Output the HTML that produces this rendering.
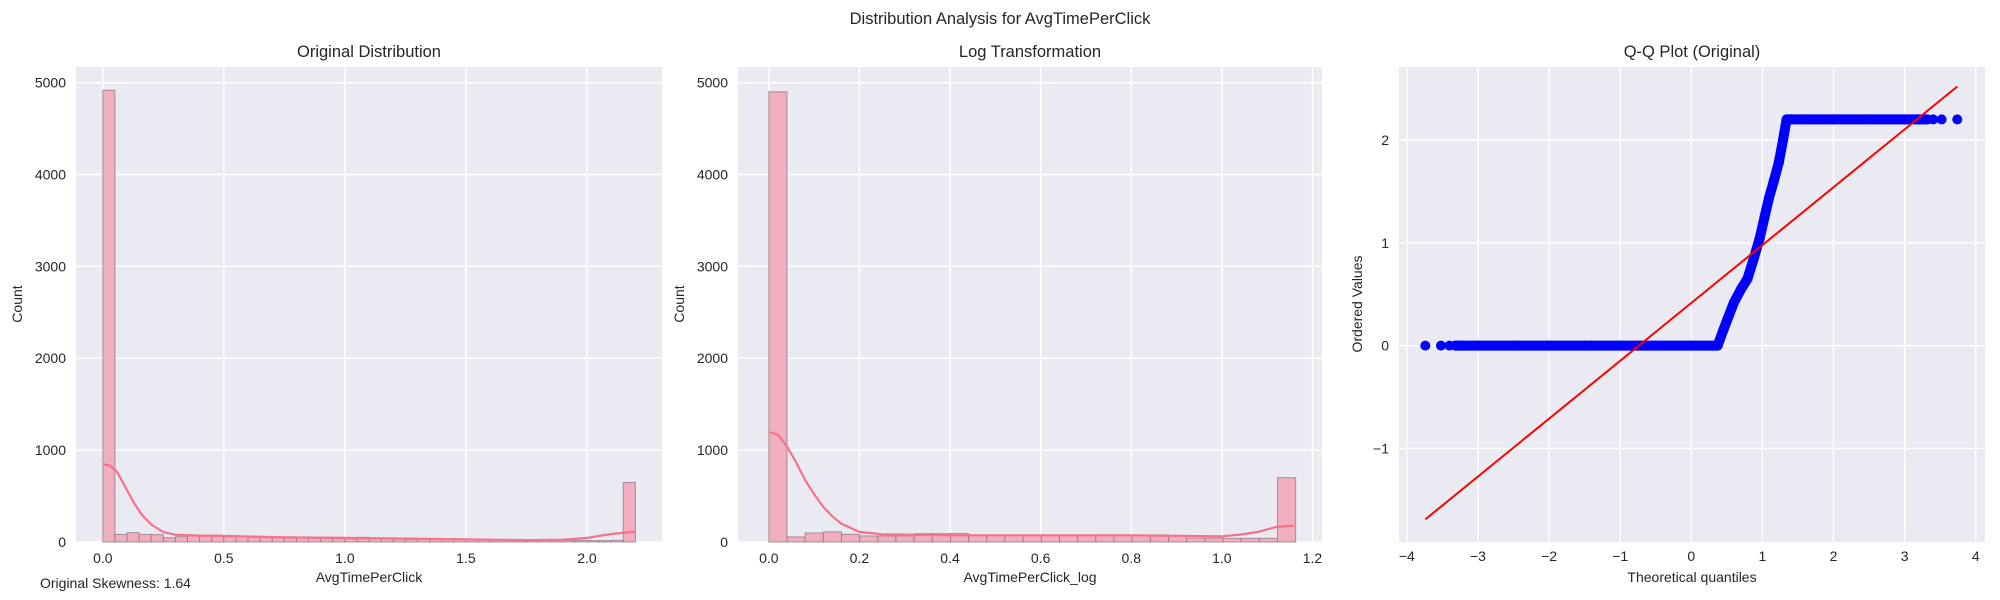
<!DOCTYPE html>
<html><head><meta charset="utf-8"><style>
html,body{margin:0;padding:0;background:#fff;}
svg{display:block;font-family:"Liberation Sans",Arial,sans-serif;}
</style></head><body>
<svg id="fig" width="2000" height="600" viewBox="0 0 2000 600">
<text x="1000" y="24" text-anchor="middle" font-size="16.5" fill="#262626">Distribution Analysis for AvgTimePerClick</text>
</svg>
<script>
// ---- data: panel 1 (original) ----
const h1BinStart = 0, h1BinWidth = 0.05;
const h1Counts = [4917,83,102,83,80,47,58,69,69,72,65,62,58,54,47,47,47,49,47,47,47,51,43,40,36,33,33,33,33,33,33,30,25,25,25,25,18,18,18,18,15,15,18,648];
const h1KdeX = [0,0.03,0.06,0.1,0.13,0.16,0.2,0.25,0.3,0.4,0.5,0.75,1.0,1.25,1.5,1.75,1.9,2.0,2.1,2.2];
const h1KdeY = [848,830,760,565,420,300,191,108,79,70,66,50,45,37,29,20,25,45,87,112];
const h1XTicks = [0,0.5,1.0,1.5,2.0];
const h1XTickLabels = ["0.0","0.5","1.0","1.5","2.0"];
const countTicks = [0,1000,2000,3000,4000,5000];
const countTickLabels = ["0","1000","2000","3000","4000","5000"];
// ---- data: panel 2 (log) ----
const h2BinStart = 0, h2BinWidth = 0.0401;
const h2Counts = [4900,55,98,110,84,66,66,66,91,91,91,73,73,73,73,73,73,73,77,77,77,77,70,44,44,40,40,40,700];
const h2KdeX = [0,0.02,0.04,0.06,0.08,0.1,0.12,0.14,0.16,0.2,0.25,0.4,0.6,0.8,0.9,1.0,1.04,1.08,1.12,1.16];
const h2KdeY = [1197,1170,1040,870,675,520,383,280,200,110,84,73,73,73,68,62,80,110,164,179];
const h2XTicks = [0,0.2,0.4,0.6,0.8,1.0,1.2];
const h2XTickLabels = ["0.0","0.2","0.4","0.6","0.8","1.0","1.2"];
// ---- data: panel 3 (Q-Q) ----
const qqTheo = [-3.74,-3.52,-3.40,-3.32,-3.26,-3.2,-3.0,-2.5,-2.0,-1.5,-1.0,-0.5,0,0.3,0.37,0.45,0.51,0.6,0.7,0.79,0.88,0.96,1.03,1.09,1.16,1.23,1.29,1.34,1.4,1.6,2.0,2.5,3.0,3.2,3.26,3.32,3.40,3.52,3.74];
const qqVals = [0,0,0,0,0,0,0,0,0,0,0,0,0,0,0,0.15,0.26,0.42,0.55,0.65,0.85,1.04,1.25,1.43,1.6,1.78,2.0,2.2,2.2,2.2,2.2,2.2,2.2,2.2,2.2,2.2,2.2,2.2,2.2];
const fitLineX = [-3.74,3.74];
const fitLineY = [-1.69,2.52];
const qqXTicks = [-4,-3,-2,-1,0,1,2,3,4];
const qqXTickLabels = ["\u22124","\u22123","\u22122","\u22121","0","1","2","3","4"];
const qqYTicks = [-1,0,1,2];
const qqYTickLabels = ["\u22121","0","1","2"];

const NS = "http://www.w3.org/2000/svg";
const fig = document.getElementById('fig');
function mk(tag, attrs, parent){const e=document.createElementNS(NS,tag);for(const k in attrs)e.setAttribute(k,attrs[k]);(parent||fig).appendChild(e);return e;}
const TOP=67, BOT=542;

function axes(g, L, R, xmin, xmax, ymin, ymax){
  const sx=v=>L+(v-xmin)/(xmax-xmin)*(R-L);
  const sy=v=>BOT-(v-ymin)/(ymax-ymin)*(BOT-TOP);
  const bg=mk('rect',{x:L,y:TOP,width:R-L,height:BOT-TOP,fill:'#eaeaf2'},g);
  
  
  return {sx,sy};
}
function grid(g,L,R,sx,sy,xt,xl,yt,yl,tickLabelY){
  xt.forEach((v,i)=>{
    const x=sx(v);
    const ln=mk('line',{x1:x,x2:x,y1:TOP,y2:BOT,stroke:'#fff','stroke-width':1.4},g);
    
    
    const t=mk('text',{x:x,y:tickLabelY,'text-anchor':'middle','font-size':14,fill:'#262626'},g);
    t.textContent=xl[i];
    
    
  });
  yt.forEach((v,i)=>{
    const y=sy(v);
    const ln=mk('line',{x1:L,x2:R,y1:y,y2:y,stroke:'#fff','stroke-width':1.4},g);
    
    
    const t=mk('text',{x:L-10,y:y+5,'text-anchor':'end','font-size':14,fill:'#262626'},g);
    t.textContent=yl[i];
    
    
  });
}
function label(g,txt,x,y,rot,name,size){
  const t=mk('text',{x:x,y:y,'text-anchor':'middle','font-size':size||14,fill:'#262626'},g);
  if(rot)t.setAttribute('transform','rotate(-90 '+x+' '+y+')');
  t.textContent=txt;
  
  
}
function hist(name,L,R,xmin,xmax,start,w,counts,kx,ky,xt,xl,title,xlab,ylabX){
  const g=mk('g',{});
  
  
  const {sx,sy}=axes(g,L,R,xmin,xmax,0,5170);
  grid(g,L,R,sx,sy,xt,xl,countTicks,countTickLabels,563);
  counts.forEach((c,i)=>{
    const x0=sx(start+i*w), x1=sx(start+(i+1)*w);
    const r=mk('rect',{x:x0,y:sy(c),width:x1-x0,height:BOT-sy(c),fill:'#f0aebe',stroke:'#8a7a80','stroke-opacity':0.75,'stroke-width':1},g);
    
    
  });
  const p=mk('path',{d:kx.map((v,i)=>(i?'L':'M')+sx(v).toFixed(1)+' '+sy(ky[i]).toFixed(1)).join(' '),fill:'none',stroke:'#f77189','stroke-width':2.2,'stroke-linejoin':'round'},g);
  
  
  label(g,title,(L+R)/2,57,false,'subplot-title',16.5);
  label(g,xlab,(L+R)/2,582,false,'x-axis-title');
  label(g,'Count',ylabX,304,true,'y-axis-title');
}
hist('original-distribution-panel',76,662,-0.1107,2.31,h1BinStart,h1BinWidth,h1Counts,h1KdeX,h1KdeY,h1XTicks,h1XTickLabels,'Original Distribution','AvgTimePerClick',22);
hist('log-transformation-panel',738,1322,-0.068,1.221,h2BinStart,h2BinWidth,h2Counts,h2KdeX,h2KdeY,h2XTicks,h2XTickLabels,'Log Transformation','AvgTimePerClick_log',684);

const sk=mk('text',{x:40,y:588,'font-size':14,fill:'#262626'});
sk.textContent='Original Skewness: 1.64';



// Q-Q panel
(function(){
  const L=1399,R=1985;
  const g=mk('g',{});
  
  
  const {sx,sy}=axes(g,L,R,-4.11,4.13,-1.91,2.71);
  grid(g,L,R,sx,sy,qqXTicks,qqXTickLabels,qqYTicks,qqYTickLabels,561);
  for(let i=1;i<qqTheo.length;i++){
    const a=qqTheo[i-1], b=qqTheo[i];
    if(a>=-3.35 && b<=3.35){
      const ln=mk('line',{x1:sx(a),y1:sy(qqVals[i-1]),x2:sx(b),y2:sy(qqVals[i]),stroke:'#0000ff','stroke-width':10,'stroke-linecap':'round'},g);
      
      
    }
  }
  qqTheo.forEach((v,i)=>{
    const c=mk('circle',{cx:sx(v),cy:sy(qqVals[i]),r:5,fill:'#0000ff'},g);
    
    
  });
  const fl=mk('line',{x1:sx(fitLineX[0]),y1:sy(fitLineY[0]),x2:sx(fitLineX[1]),y2:sy(fitLineY[1]),stroke:'#ff0000','stroke-width':2},g);
  
  
  label(g,'Q-Q Plot (Original)',(L+R)/2,57,false,'subplot-title',16.5);
  label(g,'Theoretical quantiles',(L+R)/2,582,false,'x-axis-title');
  label(g,'Ordered Values',1362,304,true,'y-axis-title');
})();
</script>
</body></html>
